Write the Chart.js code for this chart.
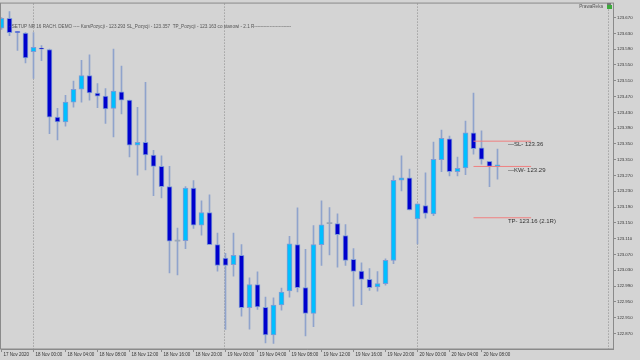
<!DOCTYPE html>
<html><head><meta charset="utf-8">
<script src="https://cdn.jsdelivr.net/npm/chart.js@4.4.1/dist/chart.umd.min.js"></script>
<style>html,body{margin:0;padding:0;background:#d4d4d4;overflow:hidden}</style>
</head><body>
<canvas id="c" width="640" height="360"></canvas>
<script>
// ---- data (H1 bars, index 0 = 17 Nov 2020 20:00) ----
const barIndex = [0,1,2,3,4,5,6,7,8,9,10,11,12,13,14,15,16,17,18,19,20,21,22,23,24,25,26,27,28,29,30,31,32,33,34,35,36,37,38,39,40,41,42,43,44,45,46,47,48,49,50,51,52,53,54,55,56,57,58,59,60,61,62];
const opens  = [123.643,123.668,123.635,123.631,123.584,123.593,123.589,123.418,123.406,123.456,123.489,123.523,123.479,123.471,123.440,123.482,123.461,123.347,123.354,123.322,123.293,123.242,123.104,123.105,123.238,123.144,123.176,123.095,123.061,123.044,123.068,122.935,122.994,122.936,122.866,122.942,122.978,123.095,122.986,122.921,123.095,123.148,123.148,123.118,123.058,123.028,123.007,122.988,122.996,123.055,123.258,123.264,123.160,123.194,123.173,123.310,123.363,123.280,123.289,123.378,123.340,123.306,123.293];
const highs  = [123.670,123.685,123.635,123.632,123.632,123.599,123.590,123.440,123.473,123.509,123.562,123.576,123.503,123.490,123.590,123.547,123.461,123.443,123.506,123.334,123.320,123.293,123.137,123.242,123.257,123.206,123.221,123.124,123.073,123.124,123.095,123.011,123.026,122.962,122.960,122.985,123.116,123.188,123.083,123.143,123.206,123.189,123.173,123.146,123.085,123.049,123.034,123.027,123.059,123.269,123.320,123.286,123.198,123.277,123.355,123.385,123.370,123.317,123.408,123.479,123.383,123.306,123.337];
const lows   = [123.640,123.624,123.587,123.555,123.516,123.561,123.376,123.360,123.395,123.443,123.456,123.461,123.442,123.402,123.368,123.426,123.317,123.271,123.284,123.219,123.213,123.023,123.018,123.085,123.136,123.119,123.095,123.028,122.880,123.015,122.914,122.881,122.931,122.846,122.845,122.929,122.962,122.975,122.864,122.887,123.042,123.069,123.038,123.042,122.939,122.943,122.979,122.977,122.992,123.047,123.231,123.183,123.097,123.162,123.168,123.280,123.269,123.269,123.272,123.324,123.299,123.242,123.261];
const closes = [123.668,123.632,123.632,123.568,123.595,123.590,123.418,123.406,123.456,123.488,123.523,123.479,123.471,123.439,123.484,123.461,123.347,123.354,123.322,123.293,123.242,123.104,123.104,123.238,123.144,123.176,123.095,123.042,123.042,123.068,122.935,122.994,122.937,122.866,122.942,122.975,123.097,122.986,122.921,123.095,123.145,123.148,123.120,123.055,123.027,123.007,122.986,122.996,123.055,123.258,123.264,123.183,123.198,123.174,123.311,123.364,123.280,123.288,123.378,123.338,123.311,123.293,123.297];

const yTicks = [122.87,122.91,122.95,122.99,123.03,123.07,123.11,123.15,123.19,123.23,123.27,123.31,123.35,123.39,123.43,123.47,123.51,123.55,123.59,123.63,123.67];
const xTickIndex = [0,4,8,12,16,20,24,28,32,36,40,44,48,52,56,60];
const xTickLabels = ['17 Nov 2020','18 Nov 00:00','18 Nov 04:00','18 Nov 08:00','18 Nov 12:00','18 Nov 16:00','18 Nov 20:00','19 Nov 00:00','19 Nov 04:00','19 Nov 08:00','19 Nov 12:00','19 Nov 16:00','19 Nov 20:00','20 Nov 00:00','20 Nov 04:00','20 Nov 08:00'];
const daySeparators = [4, 28, 52];

const levelPrices = [123.357, 123.293, 123.163];
const levelLabels = ['\u2014SL- 123.36', '\u2014KW- 123.29', 'TP- 123.16 (2.1R)'];
const levelFrom = 59, levelTo = 66.2;

const headerText = '- SETUP NR 16 RACH. DEMO ---- KursPozycji - 123.293 SL_Pozycji - 123.357  TP_Pozycji - 123.163 co stanowi - 2.1 R------------------------';
const cornerText = 'PrawaReka';

// ---- styling ----
const BG = '#d4d4d4';
const BULL = '#00bfff', BEAR = '#0000cd', DOJI = '#9aa6b6';
const WICK = '#8fa3cc', BODY_EDGE = '#7f9bd6';
const AXIS = '#8a8a8a', TXT = '#333333';

function bodyColor(i){ return closes[i] > opens[i] ? BULL : (closes[i] < opens[i] ? BEAR : DOJI); }

const wickData = barIndex.map(i => ({x: i, y: [lows[i], highs[i]]}));
const bodyData = barIndex.map(i => ({x: i, y: [Math.min(opens[i], closes[i]), Math.max(opens[i], closes[i])]}));

const levelSets = levelPrices.map(p => ({
  type: 'line',
  data: [{x: levelFrom, y: p}, {x: levelTo, y: p}],
  borderColor: '#f08080', borderWidth: 1, pointRadius: 0, order: 0, tension: 0
}));

const overlay = {
  id: 'overlay',
  beforeDraw(chart){
    const c = chart.ctx; c.save(); c.fillStyle = BG; c.fillRect(0,0,chart.width,chart.height); c.restore();
  },
  beforeDatasetsDraw(chart){
    const c = chart.ctx, xs = chart.scales.x, a = chart.chartArea;
    c.save(); c.strokeStyle = AXIS; c.lineWidth = 1; c.setLineDash([1,2]);
    daySeparators.concat([75.94]).forEach(v => {
      const px = Math.round(xs.getPixelForValue(v)) - 0.5;
      c.beginPath(); c.moveTo(px, a.top); c.lineTo(px, a.bottom); c.stroke();
    });
    c.restore();
  },
  afterDraw(chart){
    const c = chart.ctx, xs = chart.scales.x, ys = chart.scales.y, a = chart.chartArea;
    c.save();
    c.strokeStyle = AXIS; c.lineWidth = 1;
    c.strokeRect(0.5, a.top - 0.5, a.right, a.bottom - a.top + 0.5);
    c.fillStyle = '#555555'; c.font = '4.6px "Liberation Sans"'; c.textBaseline = 'middle'; c.textAlign = 'left';
    c.fillText(headerText, 9, 27);
    c.fillStyle = TXT; c.font = '6px "Liberation Sans"';
    levelPrices.forEach((p, k) => {
      c.fillText(levelLabels[k], xs.getPixelForValue(63.3), ys.getPixelForValue(p) + 3.5);
    });
    c.fillStyle = '#555'; c.font = '4.6px "Liberation Sans"'; c.textAlign = 'right';
    c.fillText(cornerText, 603, 7);
    c.fillStyle = '#777'; c.fillRect(607, 3, 4, 2);
    c.fillStyle = '#3caa3c'; c.fillRect(607, 5, 5, 4);
    c.restore();
  }
};

new Chart(document.getElementById('c'), {
  type: 'bar',
  data: {
    datasets: [
      { data: wickData, backgroundColor: WICK, barThickness: 1, grouped: false, order: 2, borderWidth: 0 },
      { data: bodyData, grouped: false, order: 1, barThickness: 5, minBarLength: 1,
        backgroundColor: ctx => bodyColor(ctx.dataIndex),
        borderColor: BODY_EDGE,
        borderWidth: ctx => (closes[ctx.dataIndex] === opens[ctx.dataIndex] ? 0 : 1),
        borderSkipped: false },
      ...levelSets
    ]
  },
  options: {
    responsive: false, animation: false, devicePixelRatio: 1,
    layout: { padding: { left: 1, top: 2, right: 0, bottom: 0 } },
    plugins: { legend: { display: false }, tooltip: { enabled: false } },
    scales: {
      x: {
        type: 'linear', min: -0.0625, max: 76.4375, offset: false, bounds: 'data',
        afterBuildTicks: s => { s.ticks = xTickIndex.map(v => ({value: v})); },
        afterFit: s => { s.height = 11; },
        grid: { display: true, drawOnChartArea: false, drawTicks: true, tickLength: 3, color: AXIS, offset: false },
        border: { display: true, color: AXIS },
        ticks: { autoSkip: false, maxRotation: 0, minRotation: 0, align: 'start', labelOffset: 2, padding: 0,
          color: TXT, font: { family: 'Liberation Sans', size: 4.5 },
          callback: (v, i) => xTickLabels[i] }
      },
      y: {
        type: 'linear', position: 'right', min: 122.8306, max: 123.7055, bounds: 'data',
        afterBuildTicks: s => { s.ticks = yTicks.map(v => ({value: v})); },
        afterFit: s => { s.width = 27; },
        grid: { display: true, drawOnChartArea: false, drawTicks: true, tickLength: 3, color: AXIS },
        border: { display: true, color: AXIS },
        ticks: { padding: 1, color: TXT, font: { family: 'Liberation Sans', size: 4.3 },
          callback: v => Number(v).toFixed(3) }
      }
    }
  },
  plugins: [overlay]
});
</script>
</body></html>
